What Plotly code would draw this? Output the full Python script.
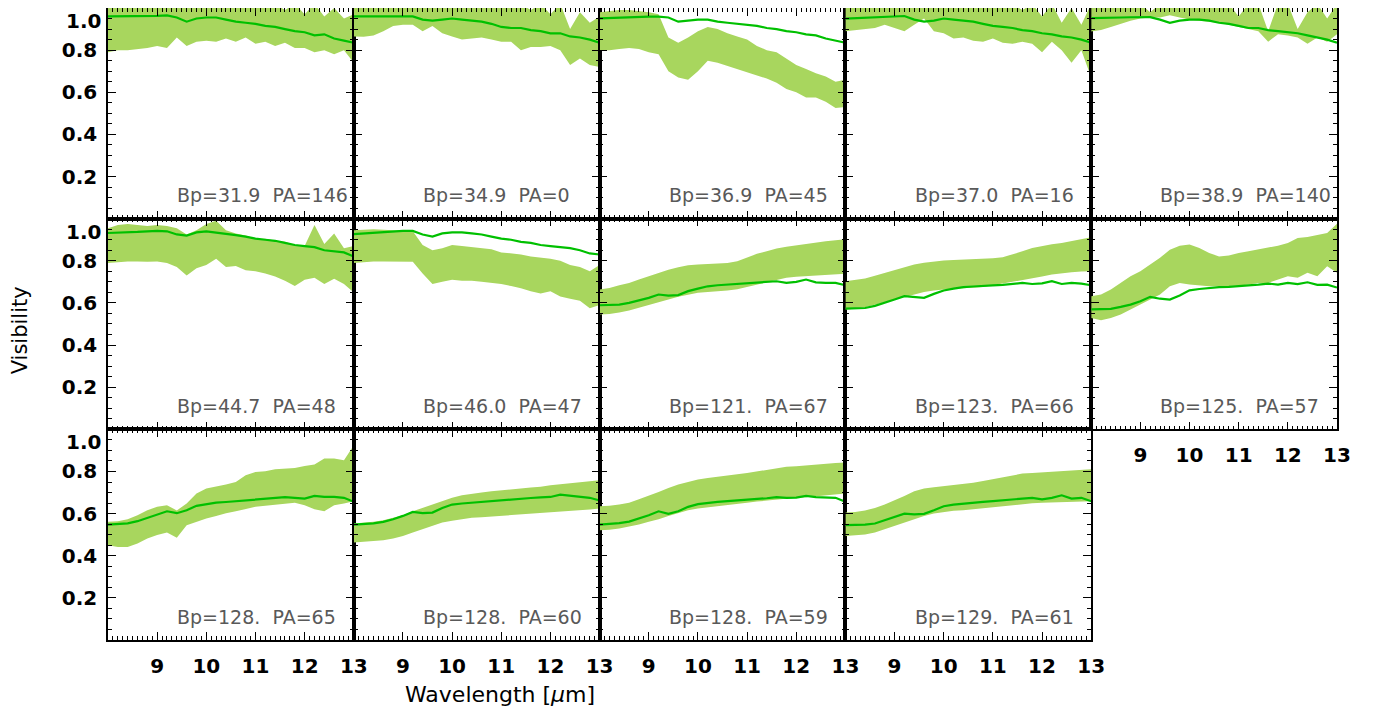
import plotly.graph_objects as go
from plotly.subplots import make_subplots

# wavelength grid [micron]
WAVELENGTH = [8.0, 8.2, 8.4, 8.6, 8.8, 9.0, 9.2, 9.4, 9.6, 9.8, 10.0, 10.2, 10.4,
              10.6, 10.8, 11.0, 11.2, 11.4, 11.6, 11.8, 12.0, 12.2, 12.4, 12.6, 12.8, 13.0]

LABELS = ["Bp=31.9  PA=146", "Bp=34.9  PA=0", "Bp=36.9  PA=45", "Bp=37.0  PA=16", "Bp=38.9  PA=140",
          "Bp=44.7  PA=48", "Bp=46.0  PA=47", "Bp=121.  PA=67", "Bp=123.  PA=66", "Bp=125.  PA=57",
          "Bp=128.  PA=65", "Bp=128.  PA=60", "Bp=128.  PA=59", "Bp=129.  PA=61"]

# model visibility (line) and measured range (band) per baseline
model_01 = [0.960, 0.960, 0.960, 0.962, 0.963, 0.963, 0.965, 0.955, 0.935, 0.950, 0.955, 0.955, 0.945,
            0.935, 0.930, 0.925, 0.915, 0.910, 0.900, 0.890, 0.885, 0.870, 0.875, 0.855, 0.845, 0.835]
low_01 = [0.79, 0.80, 0.80, 0.805, 0.81, 0.82, 0.81, 0.86, 0.82, 0.84, 0.845, 0.84, 0.855,
          0.84, 0.86, 0.83, 0.84, 0.82, 0.835, 0.81, 0.81, 0.79, 0.80, 0.78, 0.80, 0.74]
high_01 = [1.02, 1.02, 1.02, 1.02, 1.02, 1.02, 1.02, 1.02, 1.02, 1.02, 1.02, 1.02, 1.02,
           1.02, 1.02, 1.02, 1.02, 1.02, 0.99, 1.02, 0.97, 1.02, 0.96, 1.00, 0.95, 0.97]

model_02 = [0.960, 0.960, 0.960, 0.962, 0.962, 0.963, 0.960, 0.945, 0.940, 0.945, 0.950, 0.945, 0.940,
            0.935, 0.925, 0.910, 0.905, 0.905, 0.895, 0.890, 0.880, 0.880, 0.865, 0.860, 0.850, 0.835]
low_02 = [0.865, 0.863, 0.87, 0.89, 0.915, 0.92, 0.92, 0.89, 0.915, 0.88, 0.865, 0.85, 0.855,
          0.86, 0.85, 0.84, 0.84, 0.80, 0.815, 0.815, 0.82, 0.80, 0.73, 0.76, 0.73, 0.72]
high_02 = [1.02, 1.02, 1.02, 1.02, 1.02, 1.02, 1.02, 1.02, 1.02, 1.02, 1.02, 1.02, 1.02,
           1.02, 1.02, 1.02, 1.02, 1.02, 0.99, 1.02, 0.97, 1.02, 0.90, 0.98, 0.93, 0.96]

model_03 = [0.951, 0.953, 0.955, 0.957, 0.958, 0.959, 0.959, 0.955, 0.935, 0.940, 0.945, 0.945, 0.935,
            0.930, 0.925, 0.920, 0.915, 0.905, 0.900, 0.890, 0.885, 0.875, 0.870, 0.855, 0.845, 0.835]
low_03 = [0.80, 0.80, 0.805, 0.81, 0.805, 0.79, 0.78, 0.70, 0.67, 0.66, 0.70, 0.75, 0.74,
          0.725, 0.71, 0.695, 0.68, 0.665, 0.645, 0.615, 0.60, 0.575, 0.575, 0.555, 0.525, 0.53]
high_03 = [0.98, 0.985, 0.99, 0.99, 0.985, 0.98, 0.97, 0.86, 0.835, 0.86, 0.89, 0.91, 0.90,
           0.88, 0.865, 0.85, 0.82, 0.80, 0.79, 0.76, 0.73, 0.71, 0.69, 0.675, 0.65, 0.66]

model_04 = [0.950, 0.952, 0.955, 0.958, 0.960, 0.962, 0.962, 0.945, 0.935, 0.940, 0.950, 0.945, 0.940,
            0.935, 0.925, 0.915, 0.910, 0.905, 0.895, 0.890, 0.880, 0.875, 0.865, 0.860, 0.850, 0.835]
low_04 = [0.89, 0.895, 0.90, 0.905, 0.92, 0.905, 0.89, 0.92, 0.95, 0.89, 0.88, 0.855, 0.86,
          0.845, 0.84, 0.855, 0.835, 0.83, 0.84, 0.83, 0.79, 0.84, 0.80, 0.74, 0.80, 0.67]
high_04 = [1.02, 1.02, 1.02, 1.02, 1.02, 1.02, 1.02, 1.02, 1.02, 1.02, 1.02, 1.02, 1.02,
           1.02, 1.02, 1.02, 1.02, 1.02, 0.99, 1.02, 0.96, 1.02, 0.93, 1.00, 0.92, 1.02]

model_05 = [0.952, 0.952, 0.953, 0.955, 0.956, 0.957, 0.957, 0.945, 0.930, 0.940, 0.945, 0.945, 0.940,
            0.930, 0.925, 0.915, 0.905, 0.905, 0.895, 0.890, 0.885, 0.880, 0.870, 0.860, 0.850, 0.835]
low_05 = [0.888, 0.895, 0.91, 0.925, 0.94, 0.95, 0.955, 0.955, 0.965, 0.955, 0.945, 0.94, 0.935,
          0.93, 0.92, 0.91, 0.90, 0.89, 0.84, 0.875, 0.87, 0.86, 0.83, 0.86, 0.84, 0.875]
high_05 = [1.02, 1.02, 1.02, 1.02, 1.02, 1.02, 0.98, 1.02, 1.05, 1.05, 1.05, 1.02, 1.02,
           1.02, 1.02, 0.96, 1.02, 1.02, 0.89, 1.02, 1.02, 0.90, 0.98, 1.02, 0.95, 1.02]

model_06 = [0.932, 0.933, 0.935, 0.937, 0.940, 0.942, 0.940, 0.925, 0.920, 0.935, 0.940, 0.935, 0.930,
            0.922, 0.915, 0.905, 0.900, 0.895, 0.885, 0.875, 0.870, 0.865, 0.850, 0.845, 0.840, 0.820]
low_06 = [0.79, 0.795, 0.797, 0.797, 0.795, 0.797, 0.79, 0.77, 0.73, 0.765, 0.78, 0.81, 0.77,
          0.775, 0.755, 0.75, 0.74, 0.725, 0.705, 0.68, 0.71, 0.72, 0.69, 0.715, 0.69, 0.65]
high_06 = [0.955, 0.97, 0.975, 0.97, 0.965, 0.97, 0.965, 0.955, 0.925, 0.945, 0.975, 0.99, 0.945,
           0.93, 0.92, 0.905, 0.905, 0.895, 0.89, 0.875, 0.87, 0.97, 0.88, 0.93, 0.86, 0.87]

model_07 = [0.927, 0.930, 0.933, 0.937, 0.940, 0.942, 0.942, 0.925, 0.915, 0.930, 0.935, 0.935, 0.930,
            0.925, 0.915, 0.905, 0.900, 0.890, 0.885, 0.875, 0.870, 0.865, 0.860, 0.850, 0.835, 0.830]
low_07 = [0.79, 0.795, 0.797, 0.797, 0.797, 0.797, 0.795, 0.74, 0.69, 0.70, 0.71, 0.705, 0.705,
          0.70, 0.695, 0.69, 0.68, 0.67, 0.655, 0.645, 0.655, 0.63, 0.62, 0.61, 0.575, 0.59]
high_07 = [0.945, 0.948, 0.95, 0.947, 0.945, 0.944, 0.94, 0.875, 0.85, 0.86, 0.875, 0.87, 0.865,
           0.86, 0.855, 0.84, 0.835, 0.83, 0.82, 0.815, 0.81, 0.80, 0.78, 0.77, 0.75, 0.78]

model_08 = [0.589, 0.589, 0.592, 0.600, 0.611, 0.624, 0.640, 0.635, 0.637, 0.656, 0.668, 0.679, 0.684,
            0.687, 0.689, 0.692, 0.695, 0.698, 0.703, 0.695, 0.700, 0.711, 0.698, 0.695, 0.695, 0.684]
low_08 = [0.545, 0.548, 0.555, 0.564, 0.577, 0.589, 0.602, 0.616, 0.629, 0.640, 0.648, 0.652, 0.655,
          0.659, 0.665, 0.675, 0.687, 0.698, 0.709, 0.719, 0.724, 0.727, 0.730, 0.733, 0.736, 0.738]
high_08 = [0.664, 0.671, 0.684, 0.695, 0.711, 0.727, 0.742, 0.758, 0.769, 0.779, 0.782, 0.785, 0.788,
           0.790, 0.798, 0.814, 0.833, 0.845, 0.858, 0.867, 0.874, 0.880, 0.886, 0.893, 0.897, 0.902]

model_09 = [0.573, 0.573, 0.576, 0.586, 0.600, 0.616, 0.632, 0.627, 0.624, 0.643, 0.659, 0.668, 0.675,
            0.678, 0.679, 0.683, 0.686, 0.690, 0.695, 0.690, 0.693, 0.703, 0.690, 0.695, 0.692, 0.684]
low_09 = [0.569, 0.572, 0.580, 0.592, 0.605, 0.618, 0.630, 0.643, 0.652, 0.659, 0.665, 0.668, 0.670,
          0.672, 0.676, 0.684, 0.692, 0.698, 0.706, 0.716, 0.725, 0.735, 0.741, 0.746, 0.749, 0.750]
high_09 = [0.703, 0.708, 0.716, 0.729, 0.743, 0.757, 0.770, 0.782, 0.791, 0.798, 0.802, 0.804, 0.806,
           0.807, 0.809, 0.812, 0.817, 0.830, 0.845, 0.861, 0.871, 0.878, 0.885, 0.893, 0.902, 0.912]

model_10 = [0.569, 0.569, 0.572, 0.581, 0.592, 0.608, 0.629, 0.620, 0.616, 0.635, 0.660, 0.666, 0.671,
            0.675, 0.676, 0.679, 0.684, 0.687, 0.692, 0.687, 0.695, 0.689, 0.698, 0.686, 0.687, 0.673]
low_10 = [0.529, 0.518, 0.529, 0.545, 0.569, 0.592, 0.616, 0.640, 0.679, 0.695, 0.687, 0.682, 0.679,
          0.679, 0.679, 0.682, 0.687, 0.695, 0.695, 0.711, 0.727, 0.719, 0.743, 0.727, 0.774, 0.743]
high_10 = [0.632, 0.640, 0.664, 0.695, 0.727, 0.750, 0.782, 0.814, 0.853, 0.872, 0.877, 0.861, 0.837,
           0.821, 0.825, 0.837, 0.845, 0.853, 0.861, 0.872, 0.885, 0.908, 0.913, 0.924, 0.932, 0.976]

model_11 = [0.548, 0.551, 0.554, 0.564, 0.580, 0.596, 0.611, 0.602, 0.616, 0.637, 0.646, 0.652, 0.655,
            0.659, 0.664, 0.668, 0.673, 0.675, 0.678, 0.675, 0.671, 0.684, 0.679, 0.679, 0.675, 0.656]
low_11 = [0.450, 0.441, 0.442, 0.458, 0.482, 0.498, 0.510, 0.485, 0.545, 0.561, 0.577, 0.589, 0.602,
          0.611, 0.621, 0.632, 0.637, 0.643, 0.648, 0.652, 0.640, 0.621, 0.611, 0.640, 0.648, 0.659]
high_11 = [0.561, 0.564, 0.573, 0.592, 0.616, 0.632, 0.640, 0.615, 0.648, 0.695, 0.719, 0.727, 0.738,
           0.750, 0.782, 0.798, 0.801, 0.810, 0.814, 0.817, 0.826, 0.833, 0.861, 0.861, 0.853, 0.924]

model_12 = [0.548, 0.551, 0.554, 0.561, 0.573, 0.589, 0.608, 0.602, 0.605, 0.627, 0.643, 0.648, 0.652,
            0.657, 0.661, 0.665, 0.668, 0.671, 0.674, 0.677, 0.679, 0.690, 0.684, 0.681, 0.675, 0.662]
low_12 = [0.463, 0.466, 0.469, 0.474, 0.482, 0.494, 0.510, 0.526, 0.542, 0.558, 0.566, 0.573, 0.580,
          0.583, 0.586, 0.589, 0.592, 0.596, 0.599, 0.602, 0.605, 0.608, 0.611, 0.615, 0.619, 0.624]
high_12 = [0.553, 0.556, 0.561, 0.569, 0.580, 0.592, 0.611, 0.627, 0.643, 0.659, 0.675, 0.687, 0.695,
           0.700, 0.706, 0.711, 0.716, 0.719, 0.724, 0.727, 0.735, 0.739, 0.743, 0.747, 0.754, 0.758]

model_13 = [0.548, 0.550, 0.555, 0.562, 0.577, 0.592, 0.611, 0.599, 0.611, 0.632, 0.645, 0.651, 0.656,
            0.659, 0.662, 0.665, 0.668, 0.673, 0.678, 0.675, 0.676, 0.684, 0.678, 0.675, 0.675, 0.656]
low_13 = [0.521, 0.523, 0.529, 0.537, 0.548, 0.561, 0.573, 0.589, 0.602, 0.616, 0.624, 0.630, 0.637,
          0.643, 0.648, 0.652, 0.657, 0.662, 0.667, 0.671, 0.675, 0.678, 0.682, 0.687, 0.692, 0.695]
high_13 = [0.635, 0.637, 0.643, 0.652, 0.668, 0.684, 0.703, 0.722, 0.738, 0.750, 0.762, 0.769, 0.776,
           0.782, 0.787, 0.793, 0.801, 0.809, 0.817, 0.822, 0.825, 0.829, 0.834, 0.837, 0.840, 0.842]

model_14 = [0.545, 0.545, 0.548, 0.553, 0.569, 0.585, 0.600, 0.596, 0.599, 0.616, 0.635, 0.643, 0.648,
            0.652, 0.656, 0.659, 0.662, 0.665, 0.671, 0.675, 0.668, 0.675, 0.687, 0.671, 0.675, 0.659]
low_14 = [0.494, 0.498, 0.501, 0.510, 0.526, 0.542, 0.558, 0.573, 0.589, 0.600, 0.608, 0.613, 0.616,
          0.621, 0.624, 0.629, 0.634, 0.640, 0.646, 0.649, 0.652, 0.654, 0.656, 0.657, 0.659, 0.659]
high_14 = [0.605, 0.608, 0.615, 0.627, 0.643, 0.662, 0.684, 0.706, 0.719, 0.725, 0.730, 0.735, 0.740,
           0.747, 0.755, 0.763, 0.773, 0.782, 0.790, 0.793, 0.796, 0.798, 0.801, 0.804, 0.807, 0.810]

models = [model_01, model_02, model_03, model_04, model_05, model_06, model_07,
          model_08, model_09, model_10, model_11, model_12, model_13, model_14]
lows = [low_01, low_02, low_03, low_04, low_05, low_06, low_07,
        low_08, low_09, low_10, low_11, low_12, low_13, low_14]
highs = [high_01, high_02, high_03, high_04, high_05, high_06, high_07,
         high_08, high_09, high_10, high_11, high_12, high_13, high_14]

BAND = "rgb(168,214,94)"
LINE = "rgb(0,192,0)"
TICKFONT = dict(family="DejaVu Sans", size=20, color="black", weight="bold")

fig = make_subplots(rows=3, cols=5, horizontal_spacing=0, vertical_spacing=0)

for i in range(len(models)):
    r = i // 5 + 1
    c = i % 5 + 1
    fig.add_trace(go.Scatter(x=WAVELENGTH, y=lows[i], mode="lines", line=dict(width=0),
                             hoverinfo="skip", showlegend=False), row=r, col=c)
    fig.add_trace(go.Scatter(x=WAVELENGTH, y=highs[i], mode="lines", line=dict(width=0),
                             fill="tonexty", fillcolor=BAND, hoverinfo="skip", showlegend=False),
                  row=r, col=c)
    fig.add_trace(go.Scatter(x=WAVELENGTH, y=models[i], mode="lines", line=dict(color=LINE, width=2.2),
                             showlegend=False), row=r, col=c)

    n = "" if i == 0 else str(i + 1)
    fig.add_annotation(text=LABELS[i].replace("  ", "\u00a0\u00a0"), xref="x%s domain" % n, yref="y%s domain" % n,
                       x=0.273, y=0.11, xanchor="left", yanchor="middle", showarrow=False,
                       font=dict(family="DejaVu Sans", size=19, color="#595959"))

fig.update_xaxes(range=[8, 13], tickmode="array", tickvals=[8, 9, 10, 11, 12, 13],
                 ticktext=["", "9", "10", "11", "12", "13"], ticks="inside", ticklen=8, tickwidth=1.3,
                 tickcolor="black", minor=dict(tickmode="linear", tick0=8, dtick=0.1, ticks="inside",
                                               ticklen=4, tickwidth=1, tickcolor="black"),
                 showline=True, linecolor="black", linewidth=1.5, mirror="allticks", showgrid=False,
                 zeroline=False, showticklabels=False, tickfont=TICKFONT, ticklabelstandoff=7,
                 automargin=False)
fig.update_yaxes(range=[0, 1], tickmode="array", tickvals=[0, 0.2, 0.4, 0.6, 0.8, 1.0],
                 ticktext=["", "0.2", "0.4", "0.6", "0.8", ""], ticks="inside", ticklen=8, tickwidth=1.3,
                 tickcolor="black", minor=dict(tickmode="linear", tick0=0, dtick=0.05, ticks="inside",
                                               ticklen=4, tickwidth=1, tickcolor="black"),
                 showline=True, linecolor="black", linewidth=1.5, mirror="allticks", showgrid=False,
                 zeroline=False, showticklabels=False, tickfont=TICKFONT, ticklabelstandoff=5,
                 automargin=False)

for c in range(1, 5):
    fig.update_xaxes(showticklabels=True, row=3, col=c)
fig.update_xaxes(showticklabels=True, row=2, col=5)
for r in range(1, 4):
    fig.update_yaxes(showticklabels=True, row=r, col=1)
    # top label of each row sits just under the frame
    ax = "" if r == 1 else str((r - 1) * 5 + 1)
    fig.add_annotation(text="1.0", xref="x%s domain" % ax, yref="y%s domain" % ax, x=0, y=1,
                       xanchor="right", yanchor="top", xshift=-5, yshift=-1, height=20,
                       valign="middle", showarrow=False, font=TICKFONT)

fig.update_xaxes(visible=False, row=3, col=5)
fig.update_yaxes(visible=False, row=3, col=5)

fig.add_annotation(text="Visibility", xref="paper", yref="paper", x=-0.0716, y=0.49, textangle=-90,
                   xanchor="center", yanchor="middle", showarrow=False,
                   font=dict(family="DejaVu Sans", size=21, color="black"))
fig.add_annotation(text="Wavelength [<i>μ</i>m]", xref="paper", yref="paper", x=0.319, y=-0.087,
                   xanchor="center", yanchor="middle", showarrow=False,
                   font=dict(family="DejaVu Sans", size=22, color="black"))

# page body adds 8 px on the top and left
fig.update_layout(width=1376, height=716, margin=dict(l=100, r=47, t=0, b=84),
                  plot_bgcolor="white", paper_bgcolor="white")

fig.write_html("out.html")
